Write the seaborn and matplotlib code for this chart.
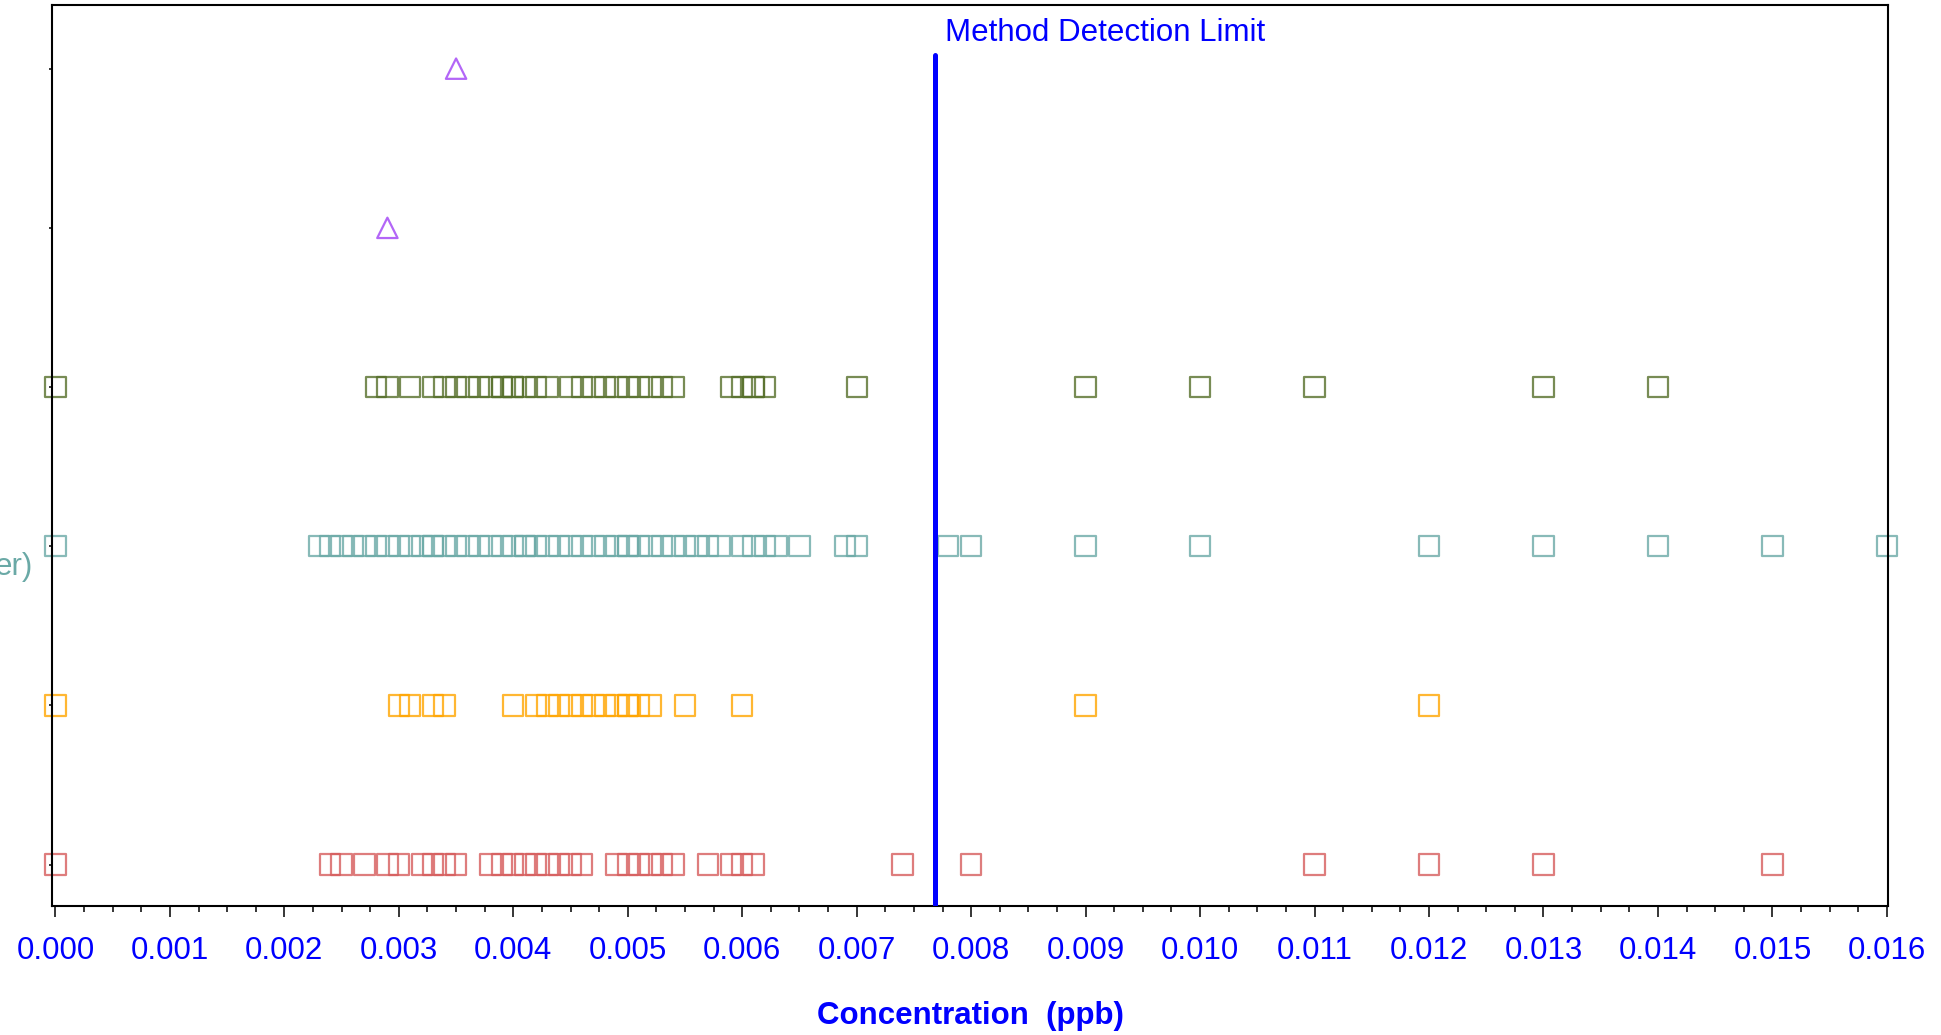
import pandas as pd
import seaborn as sns
import matplotlib.pyplot as plt
from matplotlib.ticker import AutoMinorLocator, FormatStrFormatter

# concentration readings (ppb), one list per row, top to bottom
row_1 = [0.0035]
row_2 = [0.0029]
row_3 = [0.0000, 0.0028, 0.0029, 0.0031, 0.0033, 0.0034, 0.0035, 0.0036, 0.0037,
         0.0038, 0.0039, 0.0039, 0.0040, 0.0040, 0.0041, 0.0042, 0.0043, 0.0045,
         0.0046, 0.0047, 0.0048, 0.0049, 0.0050, 0.0051, 0.0052, 0.0053, 0.0054,
         0.0059, 0.0060, 0.0061, 0.0061, 0.0062, 0.0070, 0.0090, 0.0100, 0.0110,
         0.0130, 0.0140]
row_4 = [0.0000, 0.0023, 0.0024, 0.0025, 0.0026, 0.0027, 0.0028, 0.0029, 0.0030,
         0.0031, 0.0032, 0.0033, 0.0033, 0.0034, 0.0035, 0.0036, 0.0037, 0.0038,
         0.0039, 0.0040, 0.0041, 0.0041, 0.0042, 0.0043, 0.0044, 0.0045, 0.0046,
         0.0047, 0.0048, 0.0049, 0.0050, 0.0050, 0.0051, 0.0052, 0.0053, 0.0054,
         0.0055, 0.0056, 0.0057, 0.0058, 0.0060, 0.0061, 0.0062, 0.0063, 0.0065,
         0.0069, 0.0070, 0.0078, 0.0080, 0.0090, 0.0100, 0.0120, 0.0130, 0.0140,
         0.0150, 0.0160]
row_5 = [0.0000, 0.0030, 0.0031, 0.0033, 0.0034, 0.0040, 0.0042, 0.0043, 0.0044,
         0.0045, 0.0046, 0.0047, 0.0048, 0.0049, 0.0050, 0.0050, 0.0051, 0.0052,
         0.0055, 0.0060, 0.0090, 0.0120]
row_6 = [0.0000, 0.0024, 0.0025, 0.0027, 0.0029, 0.0030, 0.0032, 0.0033, 0.0034,
         0.0035, 0.0038, 0.0039, 0.0040, 0.0041, 0.0042, 0.0043, 0.0044, 0.0045,
         0.0046, 0.0049, 0.0050, 0.0051, 0.0052, 0.0053, 0.0054, 0.0057, 0.0059,
         0.0060, 0.0061, 0.0074, 0.0080, 0.0110, 0.0120, 0.0130, 0.0150]

row_values = [row_1, row_2, row_3, row_4, row_5, row_6]
row_colors = ["#A040F5", "#A040F5", "#566F2A", "#6AA9A6", "#FFA500", "#D65C5C"]
row_markers = ["^", "^", "s", "s", "s", "s"]

mdl = 0.00768
x_ticks = [0.000, 0.001, 0.002, 0.003, 0.004, 0.005, 0.006, 0.007, 0.008,
           0.009, 0.010, 0.011, 0.012, 0.013, 0.014, 0.015, 0.016]

frames = []
for i, vals in enumerate(row_values):
    frames.append(pd.DataFrame({"conc": vals, "row": i}))
df = pd.concat(frames, ignore_index=True)

sns.set_theme(style="white")
plt.rcParams["font.family"] = ["Liberation Sans", "DejaVu Sans"]

fig = plt.figure(figsize=(19.41, 10.35), dpi=100)
ax = fig.add_axes([0.0268, 0.1246, 0.9459, 0.8706])

for i, (color, marker) in enumerate(zip(row_colors, row_markers)):
    sub = df[df["row"] == i]
    sns.scatterplot(data=sub, x="conc", y="row", marker=marker, s=215,
                    color=color, facecolors="none", edgecolor=color,
                    linewidth=1.6, alpha=0.8, clip_on=False, legend=False, ax=ax)

ax.set_xlim(-0.00003, 0.01601)
ax.set_ylim(5.26, -0.40)

ax.axvline(mdl, ymin=0, ymax=0.945, color="blue", lw=3.6, zorder=3)
ax.annotate("Method Detection Limit", xy=(mdl, 0.969),
            xycoords=("data", "axes fraction"), xytext=(10, 0),
            textcoords="offset pixels", ha="left", va="center",
            color="blue", fontsize=22.5)

# row label mostly falls outside the figure, as in the original
ax.annotate("er)", xy=(0, 3), xycoords=("axes fraction", "data"),
            xytext=(-19, -21), textcoords="offset pixels", ha="right",
            va="center", color=row_colors[3], fontsize=22.5,
            annotation_clip=False)

ax.set_xticks(x_ticks)
ax.xaxis.set_major_formatter(FormatStrFormatter("%.3f"))
ax.xaxis.set_minor_locator(AutoMinorLocator(4))
ax.set_yticks(range(len(row_values)))
ax.set_yticklabels([])

ax.tick_params(axis="x", which="major", bottom=True, direction="out", length=8,
               width=1.1, color="black", labelcolor="blue", labelsize=22.5, pad=13.5)
ax.tick_params(axis="x", which="minor", bottom=True, direction="out", length=4.5,
               width=1.1, color="black")
ax.tick_params(axis="y", which="major", left=True, direction="out", length=2.5,
               width=1.1, color="black")

ax.set_xlabel("Concentration  (ppb)", fontsize=22.5, fontweight="bold", color="blue")
ax.xaxis.set_label_coords(0.5, -0.1216)
ax.xaxis.label.set_va("center")
ax.set_ylabel("")

for sp in ax.spines.values():
    sp.set_visible(True)
    sp.set_color("black")
    sp.set_linewidth(1.5)

fig.savefig("out.png", dpi=100)
